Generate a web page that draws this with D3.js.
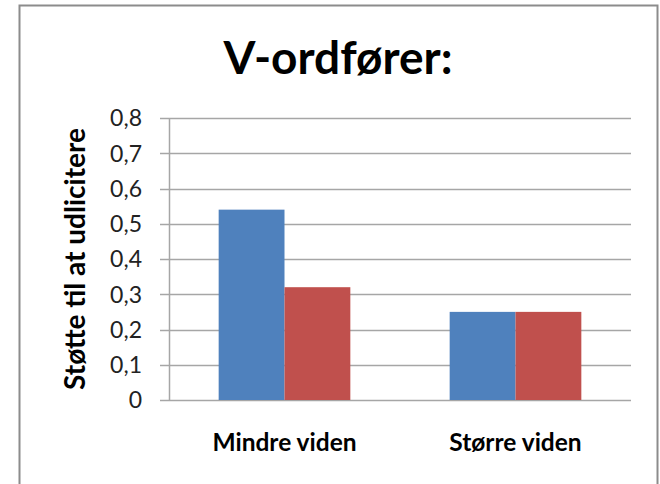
<!DOCTYPE html>
<html>
<head>
<meta charset="utf-8">
<script src="https://cdn.jsdelivr.net/npm/d3@7"></script>
<style>
  body { margin: 0; background: #fff; }
  svg { display: block; font-family: Lato, "Open Sans", sans-serif; }
</style>
</head>
<body>
<svg id="chart" width="660" height="484"></svg>
<script>
const categories = ["Mindre viden", "Større viden"]
const seriesNames = ["Serie 1", "Serie 2"]
const series1 = [0.54, 0.25]
const series2 = [0.32, 0.25]
const yTicks = [0, 0.1, 0.2, 0.3, 0.4, 0.5, 0.6, 0.7, 0.8]
const colors = ["#4f81bd", "#c0504d"]

const svg = d3.select("#chart")

// outer frame
svg.append("rect")
  .attr("x", 19.5).attr("y", 5.5)
  .attr("width", 638).attr("height", 490)
  .attr("fill", "#fff")
  .attr("stroke", "#8c8c8c")
  .attr("stroke-width", 2)

const plotLeft = 169, plotRight = 631, plotTop = 118, plotBottom = 400

const yScale = d3.scaleLinear().domain([0, 0.8]).range([plotBottom, plotTop])
const xScale = d3.scaleBand()
  .domain(categories)
  .range([plotLeft, plotRight])
  .paddingInner(0.43)
  .paddingOuter(0.215)
const inner = d3.scaleBand().domain(seriesNames).range([0, xScale.bandwidth()])

// gridlines
svg.append("g")
  .selectAll("line")
  .data(yTicks)
  .enter()
  .append("line")
  .attr("x1", plotLeft - 9)
  .attr("x2", plotRight)
  .attr("y1", d => Math.round(yScale(d)) + 0.5)
  .attr("y2", d => Math.round(yScale(d)) + 0.5)
  .attr("stroke", "#a6a6a6")
  .attr("stroke-width", 1.5)

// y axis line
svg.append("line")
  .attr("x1", plotLeft + 0.5).attr("x2", plotLeft + 0.5)
  .attr("y1", plotTop).attr("y2", plotBottom)
  .attr("stroke", "#a6a6a6")
  .attr("stroke-width", 1.5)

// tick labels
svg.append("g")
  .selectAll("text")
  .data(yTicks)
  .enter()
  .append("text")
  .attr("x", 142)
  .attr("y", d => yScale(d))
  .attr("dy", "0.36em")
  .attr("text-anchor", "end")
  .attr("font-size", 23)
  .attr("fill", "#222")
  .text(d => d3.format(".1f")(d).replace(".", ",").replace(/^0,0$/, "0"))

// bars
const data = categories.map((c, i) => ({ cat: c, vals: [series1[i], series2[i]] }))
const groups = svg.append("g")
  .selectAll("g")
  .data(data)
  .enter()
  .append("g")
  .attr("transform", d => `translate(${xScale(d.cat)},0)`)

groups.selectAll("rect")
  .data(d => d.vals.map((v, j) => ({ name: seriesNames[j], v, j })))
  .enter()
  .append("rect")
  .attr("x", d => inner(d.name))
  .attr("width", inner.bandwidth())
  .attr("y", d => yScale(d.v))
  .attr("height", d => plotBottom - yScale(d.v))
  .attr("fill", d => colors[d.j])

// category labels
svg.append("g")
  .selectAll("text")
  .data(categories)
  .enter()
  .append("text")
  .attr("x", d => xScale(d) + xScale.bandwidth() / 2)
  .attr("y", 451)
  .attr("text-anchor", "middle")
  .attr("font-size", 24.5)
  .attr("font-weight", "bold")
  .attr("fill", "#000")
  .text(d => d)

// y title
svg.append("text")
  .attr("transform", "translate(85,259) rotate(-90)")
  .attr("text-anchor", "middle")
  .attr("font-size", 28)
  .attr("font-weight", "bold")
  .text("Støtte til at udlicitere")

// title
svg.append("text")
  .attr("x", 338)
  .attr("y", 74)
  .attr("text-anchor", "middle")
  .attr("font-size", 46)
  .attr("font-weight", "bold")
  .text("V-ordfører:")
</script>
</body>
</html>
